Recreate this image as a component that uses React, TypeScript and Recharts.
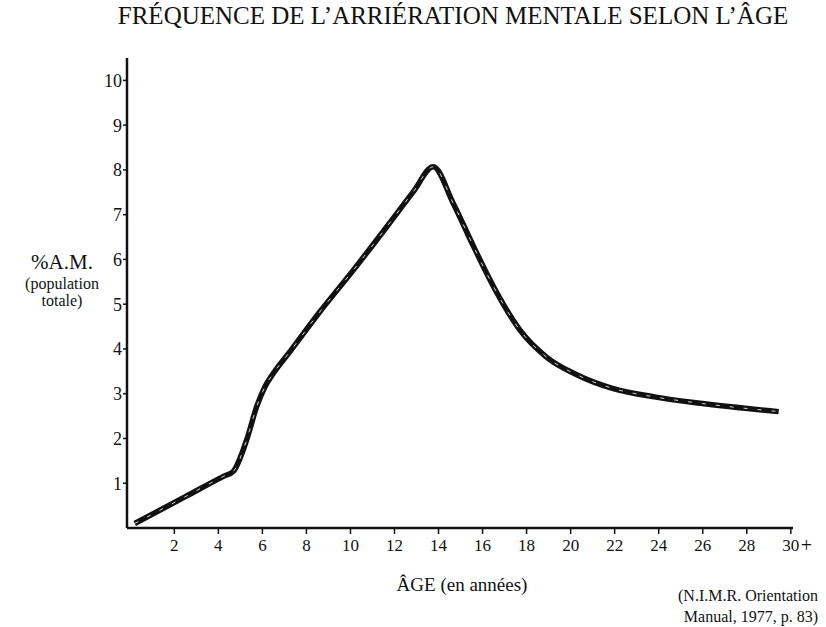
import { LineChart, Line, XAxis, YAxis } from "recharts";

const ages = [0.2, 2.5, 4.3, 4.67, 5.28, 5.74, 6.11, 6.49, 7.25, 8.61, 10.13, 11.65, 12.85, 13.76, 14.67, 15.6, 16.5, 17.7, 18.9, 20.3, 21.9, 23.8, 26.0, 29.45];
const percents = [0.1, 0.7, 1.17, 1.26, 1.96, 2.71, 3.15, 3.45, 3.94, 4.83, 5.76, 6.73, 7.51, 8.07, 7.25, 6.28, 5.39, 4.42, 3.82, 3.42, 3.12, 2.93, 2.78, 2.6];
const xTicks = [2, 4, 6, 8, 10, 12, 14, 16, 18, 20, 22, 24, 26, 28, 30];
const yTicks = [1, 2, 3, 4, 5, 6, 7, 8, 9, 10];

const data = ages.map((age, i) => ({ age, pct: percents[i] }));

const serif = "'Liberation Serif', 'DejaVu Serif', serif";

const AgeTick = (props: any) => {
  const { x, y, payload } = props;
  const last = payload.value === 30;
  return (
    <g>
      <text x={x} y={y + 15} textAnchor="middle" fontSize={17} fontFamily={serif} fill="#111">
        {payload.value}
      </text>
      {last && (
        <text x={x + 10} y={y + 16} textAnchor="start" fontSize={20} fontFamily={serif} fill="#111">
          +
        </text>
      )}
    </g>
  );
};

export default function App() {
  return (
    <div style={{ position: "absolute", left: 0, top: 0, width: 826, height: 627, background: "#fff", fontFamily: serif }}>
      <div style={{ position: "absolute", left: 0, width: 826, top: 2, textAlign: "center", paddingLeft: 80, boxSizing: "border-box", fontSize: 25, color: "#111" }}>
        FRÉQUENCE DE L’ARRIÉRATION MENTALE SELON L’ÂGE
      </div>
      <div style={{ position: "absolute", left: 0, width: 124, top: 251, textAlign: "center", color: "#111", lineHeight: 1.12 }}>
        <div style={{ fontSize: 21 }}>%A.M.</div>
        <div style={{ fontSize: 16 }}>(population</div>
        <div style={{ fontSize: 16 }}>totale)</div>
      </div>
      <div style={{ position: "absolute", left: 337, width: 250, top: 574, textAlign: "center", fontSize: 19, color: "#111" }}>
        ÂGE (en années)
      </div>
      <div style={{ position: "absolute", right: 8, top: 585, textAlign: "right", fontSize: 16, color: "#111", lineHeight: "21px" }}>
        <div>(N.I.M.R. Orientation</div>
        <div>Manual, 1977, p. 83)</div>
      </div>
      <div style={{ position: "absolute", left: 0, top: 0 }}>
        <LineChart width={826} height={627} data={data} margin={{ top: 58, right: 33, bottom: 69, left: 77 }}>
          <XAxis
            dataKey="age"
            type="number"
            domain={[-0.15, 30.1]}
            ticks={xTicks}
            allowDataOverflow
            height={30}
            tick={<AgeTick />}
            tickSize={6}
            axisLine={{ stroke: "#111", strokeWidth: 2.5 }}
            tickLine={{ stroke: "#111", strokeWidth: 1.5 }}
          />
          <YAxis
            type="number"
            domain={[0, 10.5]}
            ticks={yTicks}
            allowDataOverflow
            width={50}
            tickSize={4}
            tickMargin={1}
            axisLine={{ stroke: "#111", strokeWidth: 2.5 }}
            tickLine={{ stroke: "#111", strokeWidth: 1.5 }}
            tick={{ fill: "#111", fontSize: 18, fontFamily: serif }}
          />
          <Line
            dataKey="pct"
            type="monotone"
            stroke="#111"
            strokeWidth={5.5}
            dot={false}
            isAnimationActive={false}
          />
          <Line
            dataKey="pct"
            type="monotone"
            stroke="#fff"
            strokeWidth={1}
            strokeDasharray="4 10"
            strokeOpacity={0.8}
            dot={false}
            isAnimationActive={false}
          />
        </LineChart>
      </div>
    </div>
  );
}
